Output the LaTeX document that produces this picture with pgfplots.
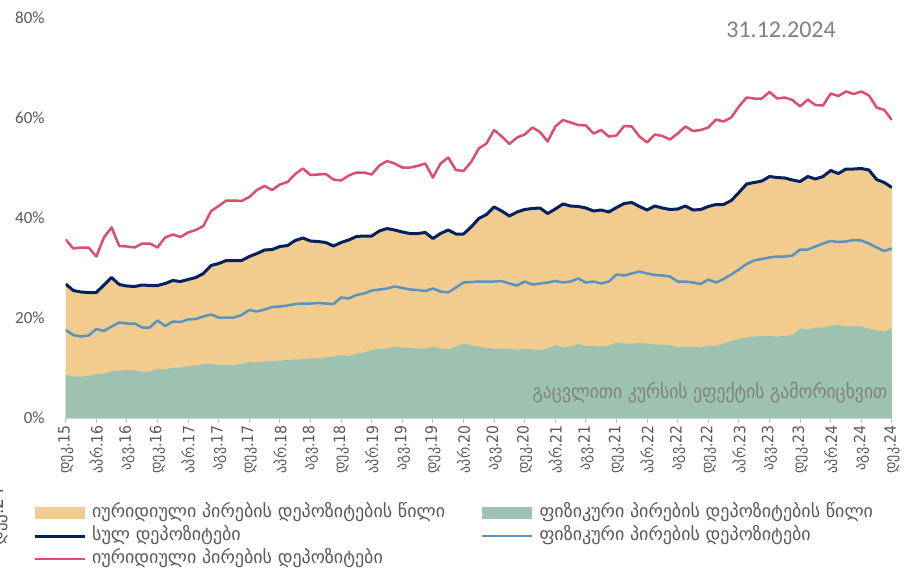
\documentclass[border=0pt]{standalone}
\usepackage{fontspec}
\setmainfont{Carlito}
\newfontfamily\geo{DejaVu Sans Condensed}
\newfontfamily\geoleg{DejaVu Sans}
\usepackage{pgfplots}
\usepackage{pgfplotstable}
\pgfplotsset{compat=1.18}

\definecolor{legalfill}{RGB}{242,204,143}
\definecolor{physfill}{RGB}{157,195,176}
\definecolor{totline}{RGB}{0,32,96}
\definecolor{physline}{RGB}{88,148,192}
\definecolor{legline}{RGB}{217,79,108}
\definecolor{labgray}{RGB}{89,89,89}
\definecolor{notegray}{RGB}{128,128,128}

% i = months since Dec 2015; gr = share of physical persons, tot = total,
% bl = physical persons deposits, rd = legal entities deposits (%)
\pgfplotstableread{
i gr bl tot rd
0 8.6 17.6 26.8 35.7
1 8.3 16.6 25.5 33.9
2 8.3 16.3 25.2 34.1
3 8.4 16.5 25.1 34.1
4 8.8 17.8 25.1 32.3
5 8.9 17.4 26.6 36.1
6 9.3 18.3 28.1 38.1
7 9.5 19.1 26.7 34.4
8 9.6 18.9 26.4 34.3
9 9.6 18.9 26.3 34.1
10 9.2 18.1 26.6 34.9
11 9.3 18.1 26.5 34.9
12 9.9 19.5 26.5 34.1
13 9.7 18.4 26.9 36.1
14 10.1 19.3 27.5 36.7
15 10.1 19.2 27.3 36.2
16 10.4 19.7 27.7 37.1
17 10.5 19.8 28.1 37.6
18 10.8 20.3 28.9 38.4
19 10.9 20.7 30.5 41.4
20 10.6 20.1 30.9 42.4
21 10.6 20.1 31.5 43.5
22 10.6 20.1 31.5 43.5
23 10.8 20.6 31.5 43.4
24 11.2 21.6 32.3 44.2
25 11.1 21.3 32.9 45.6
26 11.3 21.7 33.6 46.4
27 11.4 22.2 33.7 45.6
28 11.5 22.3 34.3 46.7
29 11.6 22.5 34.5 47.2
30 11.7 22.8 35.5 48.8
31 11.8 22.9 36.0 49.9
32 11.9 22.9 35.4 48.6
33 12.0 23.0 35.3 48.7
34 12.1 22.9 35.1 48.8
35 12.3 22.8 34.4 47.7
36 12.6 24.1 35.1 47.5
37 12.4 23.9 35.6 48.5
38 12.9 24.6 36.3 49.1
39 13.1 24.9 36.4 49.1
40 13.6 25.5 36.4 48.7
41 13.9 25.7 37.4 50.5
42 13.9 25.9 37.9 51.4
43 14.3 26.3 37.6 50.9
44 14.1 26.0 37.2 50.1
45 14.0 25.7 36.9 50.1
46 13.9 25.6 36.9 50.4
47 13.9 25.4 37.1 50.9
48 14.3 25.9 35.9 48.1
49 13.9 25.3 36.9 50.9
50 13.7 25.1 37.6 52.1
51 14.3 26.1 36.8 49.6
52 14.9 27.1 36.8 49.4
53 14.5 27.2 38.2 51.2
54 14.3 27.3 39.9 53.9
55 14.0 27.3 40.7 54.9
56 13.9 27.3 42.2 57.6
57 13.9 27.4 41.4 56.3
58 13.9 26.9 40.4 54.8
59 13.6 26.5 41.2 56.1
60 13.9 27.3 41.7 56.7
61 13.7 26.7 41.9 58.1
62 13.6 26.9 42.0 57.2
63 13.9 27.1 40.9 55.3
64 14.6 27.4 41.8 58.3
65 14.1 27.1 42.8 59.6
66 14.3 27.3 42.4 59.1
67 14.8 27.9 42.3 58.6
68 14.4 27.1 42.0 58.5
69 14.4 27.3 41.4 56.9
70 14.3 26.9 41.6 57.6
71 14.5 27.3 41.2 56.3
72 15.1 28.7 42.1 56.5
73 14.9 28.5 42.9 58.4
74 14.9 28.9 43.1 58.3
75 15.0 29.3 42.3 56.3
76 14.9 28.9 41.6 55.1
77 14.7 28.6 42.4 56.7
78 14.7 28.5 42.0 56.4
79 14.6 28.3 41.7 55.7
80 14.1 27.3 41.8 56.9
81 14.3 27.3 42.4 58.3
82 14.3 27.1 41.6 57.4
83 14.1 26.8 41.7 57.6
84 14.5 27.7 42.3 58.1
85 14.4 27.1 42.7 59.7
86 14.9 27.8 42.7 59.3
87 15.4 28.7 43.5 60.1
88 15.9 29.7 45.1 62.3
89 16.1 30.8 46.8 64.1
90 16.3 31.5 47.1 63.9
91 16.4 31.8 47.4 63.9
92 16.4 32.1 48.3 65.2
93 16.3 32.3 48.1 63.9
94 16.4 32.3 48.0 64.1
95 16.6 32.5 47.6 63.6
96 17.9 33.7 47.3 62.3
97 17.7 33.7 48.3 63.7
98 18.1 34.3 47.8 62.6
99 18.1 34.9 48.3 62.5
100 18.5 35.4 49.5 64.9
101 18.6 35.2 48.9 64.4
102 18.3 35.3 49.8 65.3
103 18.4 35.6 49.8 64.8
104 18.3 35.5 49.9 65.3
105 17.9 34.9 49.6 64.5
106 17.5 34.1 47.7 62.1
107 17.3 33.4 47.1 61.6
108 17.9 33.9 46.1 59.6
}\deposits

\pgfplotsset{
  boxlegend/.style={legend image code/.code={\fill[##1] (0pt,-3pt) rectangle (25pt,3pt);}},
  linelegend/.style={legend image code/.code={\draw[##1] (0pt,0pt) -- (25pt,0pt);}},
}

\begin{document}
\begin{tikzpicture}
\useasboundingbox (-32.85pt,-75.5pt) rectangle (422.15pt,209pt);
\begin{axis}[
    at={(0pt,0pt)}, anchor=south west,
    scale only axis,
    width=413.1pt, height=200pt,
    xmin=0, xmax=108, ymin=0, ymax=80,
    axis y line*=left, axis x line*=bottom,
    y axis line style={draw=none},
    x axis line style={draw={rgb,255:red,217;green,217;blue,217}, line width=0.6pt},
    ytick={0,20,40,60,80},
    yticklabel={\pgfmathprintnumber{\tick}\%},
    ytick style={draw=none},
    yticklabel style={font=\fontsize{8.5}{10}\selectfont, text=labgray, xshift=-7pt},
    /pgf/number format/assume math mode=true,
    xtick={0,4,...,108},
    xticklabels={დეკ.15,აპრ.16,აგვ.16,დეკ.16,აპრ.17,აგვ.17,დეკ.17,აპრ.18,აგვ.18,დეკ.18,აპრ.19,აგვ.19,დეკ.19,აპრ.20,აგვ.20,დეკ.20,აპრ.21,აგვ.21,დეკ.21,აპრ.22,აგვ.22,დეკ.22,აპრ.23,აგვ.23,დეკ.23,აპრ.24,აგვ.24,დეკ.24},
    xtick align=outside,
    major tick length=2.5pt,
    xtick style={draw={rgb,255:red,191;green,191;blue,191}, line width=0.5pt},
    xticklabel style={font=\geo\fontsize{7.8}{8}\selectfont, text=labgray, rotate=90, anchor=east, inner sep=1pt},
    legend style={at={(-0.0472,-0.203)}, anchor=north west, draw=none, fill=none,
        legend columns=2, column sep=0pt, row sep=2pt,
        font=\geoleg\fontsize{9}{10}\selectfont, text=labgray,
        nodes={inner sep=0.5pt, text height=6.5pt, text depth=2pt}},
    legend cell align=left,
]
\addplot[fill=legalfill, draw=none, boxlegend]
    table[x=i, y=tot] {\deposits} \closedcycle;
\addlegendentry{\makebox[196.5pt][l]{\hspace{2.5pt}იურიდიული პირების დეპოზიტების წილი}}
\addplot[fill=physfill, draw=none, boxlegend]
    table[x=i, y=gr] {\deposits} \closedcycle;
\addlegendentry{\hspace{2.5pt}ფიზიკური პირების დეპოზიტების წილი}
\addplot[totline, line width=1.5pt, line join=round, linelegend]
    table[x=i, y=tot] {\deposits};
\addlegendentry{\makebox[196.5pt][l]{\hspace{2.5pt}სულ დეპოზიტები}}
\addplot[physline, line width=1.25pt, line join=round, linelegend]
    table[x=i, y=bl] {\deposits};
\addlegendentry{\hspace{2.5pt}ფიზიკური პირების დეპოზიტები}
\addplot[legline, line width=1.25pt, line join=round, linelegend]
    table[x=i, y=rd] {\deposits};
\addlegendentry{\hspace{2.5pt}იურიდიული პირების დეპოზიტები}
\end{axis}
\node[anchor=center, text=notegray, font=\fontsize{12}{14}\selectfont] at (357.7pt,194pt) {31.12.2024};
\node[anchor=east, text=notegray, font=\geo\fontsize{9.8}{11}\selectfont, inner sep=0pt] at (411pt,12.5pt) {გაცვლითი კურსის ეფექტის გამორიცხვით};
% clipped stray label at the left edge, as in the source
\node[rotate=90, anchor=south east, text=labgray, font=\geo\fontsize{9.5}{10}\selectfont, inner sep=0pt] at (-28.85pt,-34.5pt) {დეკ.24};
\end{tikzpicture}
\end{document}
